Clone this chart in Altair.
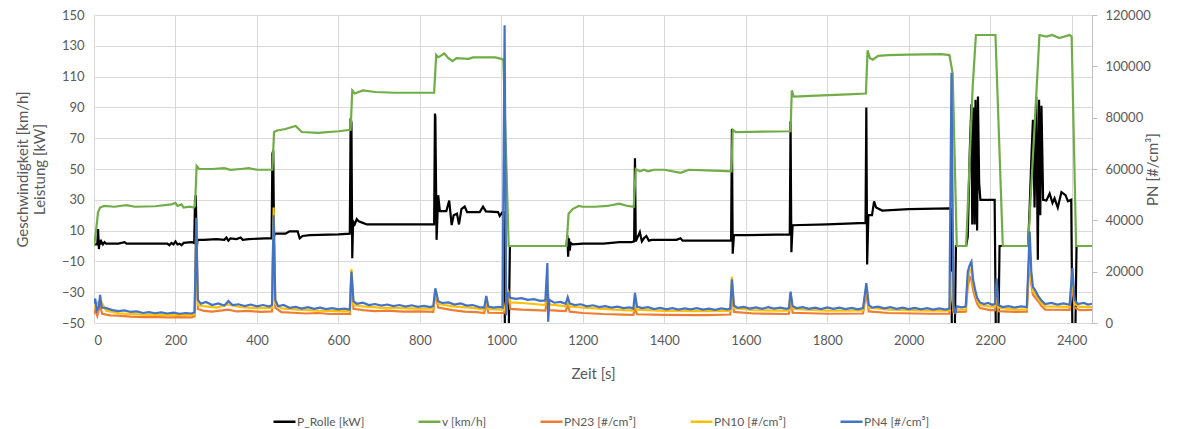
import altair as alt
import pandas as pd

# ---------------- data ----------------
SERIES = ["P_Rolle [kW]", "v [km/h]", "PN23 [#/cm³]", "PN10 [#/cm³]", "PN4 [#/cm³]"]
COLORS = ["#000000", "#70AD47", "#ED7D31", "#FFC000", "#4472C4"]

X_TICKS = list(range(0, 2401, 200))
LEFT_TICKS = [-50, -30, -10, 10, 30, 50, 70, 90, 110, 130, 150]
RIGHT_TICKS = [0, 20000, 40000, 60000, 80000, 100000, 120000]

P_ROLLE = [
    (0, 1), (8, 1), (10, 11), (12, -2), (14, 4), (16, 1), (18, 3), (22, 1), (26, 2.5), (30, 1.5),
    (40, 1.5), (60, 1.5), (75, 2.5), (80, 1.5), (180, 1.5), (185, 0.5), (190, 2), (195, 1), (200, 3),
    (205, 1), (210, 1.5), (215, 0.5), (220, 2), (240, 2.5), (246, 2), (248, 30), (250, 33), (252, -3),
    (254, 4), (270, 4), (300, 4.5), (320, 4), (325, 5.5), (330, 3.5), (335, 5), (350, 4.5), (360, 5.5),
    (365, 4), (380, 4.5), (420, 5), (436, 5), (438, 60), (440, 62), (442, 6), (444, 8), (470, 8),
    (480, 9.5), (500, 9.5), (505, 5), (512, 6.5), (530, 7), (600, 7.5), (628, 8), (630, 83), (632, 80),
    (634, -8), (636, 16), (640, 14), (645, 17.5), (650, 16), (660, 15), (670, 14), (700, 14), (835, 14),
    (837, 86), (838, 84), (841, 4), (845, 33), (849, 22.7), (865, 22.7), (872, 29.5), (878, 13.6),
    (883, 20), (891, 21), (896, 14), (902, 24), (910, 25.6), (916, 22), (947, 22), (955, 25.6),
    (962, 22.5), (992, 22), (996, 19.5), (1003, 22), (1006, 22), (1009, -60), (1018, -60), (1021, 0),
    (1160, 0), (1162, 7), (1164, -7), (1166, 5), (1168, -3), (1170, 2), (1175, 1), (1200, 1.5),
    (1250, 1.5), (1290, 2.5), (1320, 2.5), (1326, 3), (1328, 57), (1330, 3), (1335, 6), (1340, 9),
    (1345, 3), (1350, 5), (1356, 6.5), (1362, 3.5), (1370, 4), (1400, 4), (1430, 4), (1440, 5),
    (1445, 3.5), (1500, 3.5), (1564, 3.5), (1566, 76), (1568, -5), (1571, 7), (1600, 7), (1708, 7.5),
    (1710, 81), (1712, -4), (1715, 13.5), (1800, 14), (1894, 15), (1896, 90), (1898, -12), (1901, 20),
    (1910, 20), (1915, 29), (1920, 25), (1935, 23), (2000, 24), (2100, 24.4), (2104, 24), (2106, -60),
    (2113, -60), (2116, 0), (2141, 0), (2145, 6), (2150, 62), (2154, 92), (2156, 14), (2159, 90),
    (2162, 14), (2164, 95), (2168, 10), (2170, 97), (2173, 41), (2176, 30), (2211, 30), (2214, -60),
    (2220, -60), (2223, 0), (2293, 0), (2297, 25), (2301, 56), (2305, 82), (2309, 25), (2313, 97),
    (2317, -9), (2320, 95), (2323, 20), (2326, 91), (2330, 30), (2338, 29.5), (2346, 34), (2353, 28),
    (2358, 31), (2366, 25), (2375, 35), (2385, 33), (2391, 29), (2399, 30), (2402, -60), (2409, -60),
    (2412, 0), (2450, 0),
]

V_KMH = [
    (0, 0), (5, 10), (10, 22), (15, 25), (25, 26), (50, 25.5), (80, 26.5), (100, 25.5), (150, 25.8),
    (190, 27), (200, 28), (205, 26), (215, 27), (220, 25), (235, 25.5), (245, 25), (248, 26), (252, 52),
    (258, 50), (290, 50), (320, 50.5), (335, 49.5), (360, 50), (380, 50.5), (400, 49.5), (438, 49.5),
    (442, 74), (450, 75), (470, 76), (495, 78), (510, 74), (550, 73.5), (600, 74.5), (630, 75.5),
    (634, 101), (640, 99), (660, 101), (690, 100), (740, 99.5), (835, 99.5), (840, 124), (845, 122.5),
    (860, 125), (870, 122), (880, 120), (890, 122), (920, 121.5), (930, 122.5), (985, 122.5),
    (1000, 121.5), (1005, 121), (1018, 0), (1160, 0), (1165, 21), (1175, 24), (1190, 26), (1200, 25.5),
    (1230, 25.5), (1260, 26), (1290, 27.5), (1310, 26), (1325, 25.5), (1330, 50), (1340, 48.5),
    (1350, 49.5), (1360, 48.5), (1375, 49.5), (1400, 49.5), (1440, 47.5), (1460, 49.5), (1520, 49),
    (1565, 48.5), (1568, 75.5), (1575, 74), (1710, 74.5), (1713, 101), (1718, 97), (1760, 97.5),
    (1850, 98.5), (1895, 99), (1899, 127), (1905, 122), (1912, 121), (1925, 123.5), (1950, 124),
    (2000, 124.3), (2080, 124.6), (2100, 124), (2108, 112), (2118, 0), (2141, 0), (2157, 103),
    (2165, 137), (2213, 137), (2231, 0), (2293, 0), (2313, 97), (2321, 137), (2338, 136), (2352, 137),
    (2370, 135), (2395, 137), (2400, 136), (2411, 0), (2450, 0),
]

PN4 = [
    (0, 7500), (3, 9500), (7, 5000), (12, 6500), (15, 11000), (19, 6000), (30, 5800), (45, 5000),
    (60, 4600), (75, 4900), (90, 4300), (105, 4500), (120, 3900), (135, 4200), (150, 3800), (165, 4100),
    (180, 3700), (195, 4000), (210, 3600), (225, 3900), (240, 3700), (247, 4200), (251, 41000),
    (255, 9000), (262, 7500), (275, 8200), (290, 7000), (305, 7600), (320, 6800), (330, 8500),
    (340, 7000), (355, 7300), (370, 6600), (385, 7200), (400, 6500), (415, 7000), (430, 6400),
    (437, 7000), (441, 42000), (445, 9000), (452, 6500), (465, 7000), (480, 5900), (495, 6300),
    (510, 5600), (525, 6200), (540, 5500), (555, 6000), (570, 5400), (585, 5800), (600, 5300),
    (615, 5600), (628, 5200), (632, 20000), (637, 8500), (645, 7500), (660, 7900), (675, 7000),
    (690, 7400), (705, 6800), (720, 7200), (735, 6600), (750, 7000), (765, 6400), (780, 6900),
    (795, 6300), (810, 6700), (825, 6200), (833, 6600), (838, 13500), (845, 8500), (855, 7800),
    (870, 8000), (885, 7200), (900, 7600), (915, 6800), (930, 7000), (945, 6200), (958, 6000),
    (963, 10500), (968, 6400), (980, 6000), (995, 6300), (1003, 6000), (1008, 116000), (1012, 3000),
    (1016, 12000), (1022, 9800), (1035, 9400), (1050, 9700), (1065, 9000), (1080, 9300), (1095, 8600),
    (1108, 8800), (1113, 23400), (1115, 500), (1118, 9000), (1130, 7900), (1145, 8200), (1158, 7500),
    (1163, 10100), (1168, 7600), (1180, 7000), (1195, 7300), (1210, 6500), (1225, 6900), (1240, 6200),
    (1255, 6600), (1270, 6000), (1285, 6400), (1300, 5800), (1315, 6100), (1324, 5600), (1328, 11700),
    (1333, 6400), (1345, 5800), (1360, 6200), (1375, 5400), (1390, 5900), (1405, 5300), (1420, 5800),
    (1435, 5200), (1450, 5700), (1465, 5300), (1480, 5800), (1495, 5200), (1510, 5600), (1525, 5100),
    (1540, 5700), (1555, 5300), (1562, 5500), (1566, 17000), (1571, 6800), (1580, 5900), (1595, 6300),
    (1610, 5600), (1625, 6100), (1640, 5500), (1655, 6200), (1670, 5600), (1685, 6000), (1700, 5500),
    (1706, 5800), (1710, 12200), (1715, 6500), (1725, 5800), (1740, 6200), (1755, 5500), (1770, 6000),
    (1785, 5400), (1800, 6100), (1815, 5500), (1830, 6000), (1845, 5400), (1860, 5900), (1875, 5300),
    (1888, 5800), (1896, 15500), (1902, 7000), (1910, 6000), (1925, 6400), (1940, 5700), (1955, 6200),
    (1970, 5500), (1985, 6000), (2000, 5400), (2015, 5900), (2030, 5300), (2045, 5800), (2060, 5200),
    (2075, 5700), (2090, 5200), (2100, 5600), (2105, 97500), (2110, 6000), (2114, 3500), (2118, 6500),
    (2130, 6100), (2140, 6400), (2145, 20000), (2150, 22600), (2154, 23900), (2158, 17000),
    (2163, 13000), (2168, 9800), (2175, 8000), (2185, 7400), (2195, 7800), (2205, 7100), (2212, 7500),
    (2216, 17400), (2220, 7000), (2230, 6200), (2245, 6600), (2260, 6000), (2275, 6500), (2290, 6200),
    (2297, 35600), (2301, 20000), (2305, 14000), (2310, 12900), (2318, 10500), (2326, 8800),
    (2335, 7400), (2350, 7800), (2365, 7200), (2380, 7600), (2395, 7100), (2402, 21400), (2407, 9000),
    (2415, 7400), (2430, 7800), (2440, 7200), (2450, 7500),
]

PN10 = [
    (0, 6000), (15, 9000), (30, 4800), (60, 3800), (120, 3300), (180, 3100), (240, 3100), (247, 3500),
    (251, 38000), (255, 7000), (270, 6600), (300, 6000), (330, 7200), (360, 6200), (400, 5800),
    (437, 5900), (441, 45000), (445, 7500), (460, 5700), (500, 5200), (550, 4800), (600, 4600),
    (628, 4500), (632, 21000), (637, 7000), (660, 6500), (700, 6000), (750, 5800), (800, 5600),
    (833, 5600), (838, 13000), (845, 7500), (880, 6500), (930, 5900), (958, 5200), (963, 9500),
    (968, 5400), (1003, 5200), (1008, 5000), (1012, 9000), (1016, 13000), (1022, 8000), (1050, 7800),
    (1080, 7400), (1108, 7000), (1113, 15000), (1118, 7200), (1145, 6800), (1158, 6500), (1163, 9000),
    (1168, 6400), (1200, 6000), (1250, 5500), (1300, 5000), (1324, 4800), (1328, 9500), (1333, 5200),
    (1400, 4700), (1500, 4600), (1562, 4700), (1566, 18000), (1571, 5800), (1620, 5000), (1700, 4800),
    (1706, 4900), (1710, 11500), (1715, 5500), (1800, 4800), (1888, 4900), (1896, 14500), (1902, 6000),
    (1950, 5200), (2050, 4800), (2100, 4800), (2105, 20000), (2110, 5200), (2140, 5300), (2145, 17000),
    (2150, 20500), (2154, 21000), (2158, 15500), (2163, 12000), (2168, 9000), (2175, 7000),
    (2200, 6400), (2212, 6400), (2216, 15000), (2220, 6000), (2260, 5200), (2290, 5300), (2297, 30000),
    (2301, 17000), (2305, 12500), (2310, 11500), (2318, 9500), (2326, 7800), (2335, 6500),
    (2395, 6300), (2402, 18500), (2407, 7500), (2420, 6300), (2450, 6300),
]

PN23 = [
    (0, 3500), (3, 5000), (8, 2800), (15, 7000), (20, 3600), (40, 3000), (60, 2900), (90, 2500),
    (120, 2300), (150, 2400), (180, 2200), (210, 2300), (240, 2200), (247, 2600), (251, 33000),
    (255, 5500), (270, 4700), (290, 4400), (310, 4800), (330, 5200), (350, 4500), (380, 4700),
    (410, 4300), (437, 4500), (441, 40000), (445, 6000), (460, 4200), (490, 4000), (520, 3700),
    (550, 3900), (580, 3500), (610, 3600), (628, 3500), (632, 19000), (637, 5500), (660, 5000),
    (690, 4600), (720, 4800), (760, 4400), (800, 4500), (833, 4300), (838, 11700), (845, 6000),
    (880, 5000), (910, 4400), (940, 4200), (958, 3900), (963, 7500), (968, 4000), (1003, 3900),
    (1008, 4000), (1012, 7000), (1016, 12900), (1022, 5500), (1050, 5200), (1080, 5000), (1108, 4800),
    (1113, 9000), (1118, 5000), (1145, 4700), (1158, 4600), (1163, 7100), (1168, 4400), (1200, 3900),
    (1250, 3500), (1300, 3300), (1324, 3200), (1328, 5700), (1333, 3400), (1400, 3200), (1500, 3100),
    (1562, 3300), (1566, 13000), (1571, 4300), (1620, 3700), (1700, 3500), (1706, 3600), (1710, 9000),
    (1715, 4000), (1800, 3600), (1888, 3700), (1896, 12000), (1902, 4500), (1950, 3900), (2050, 3600),
    (2100, 3600), (2105, 15000), (2110, 4200), (2140, 4400), (2145, 14000), (2150, 18000),
    (2154, 17000), (2158, 13000), (2163, 10000), (2168, 7500), (2175, 5800), (2200, 5000),
    (2212, 5000), (2216, 13000), (2220, 4600), (2260, 4300), (2290, 4400), (2297, 27000),
    (2301, 15000), (2305, 11000), (2310, 10000), (2318, 8500), (2326, 6600), (2335, 5200),
    (2395, 5100), (2402, 15500), (2407, 6000), (2420, 5000), (2450, 5100),
]

# ---------------- chart ----------------
FONT = "Lato"
GREY = "#595959"
GRID = "#d9d9d9"


def frame(pairs, name):
    return pd.DataFrame({
        "t": [p[0] for p in pairs],
        "val": [p[1] for p in pairs],
        "series": [name] * len(pairs),
    })


x_enc = alt.X(
    "t:Q",
    scale=alt.Scale(domain=[0, 2450], nice=False, zero=False),
    axis=alt.Axis(values=X_TICKS, format="d", title="Zeit [s]", grid=True, gridColor=GRID,
                  ticks=False, domain=False, labelPadding=11, titlePadding=19, labelFontSize=13,
                  titleFontSize=15, labelColor=GREY, titleColor=GREY, titleFontWeight="normal",
                  labelFont=FONT, titleFont=FONT),
)

left_y = alt.Y(
    "val:Q",
    scale=alt.Scale(domain=[-50, 150], nice=False, zero=False),
    axis=alt.Axis(values=LEFT_TICKS, title=["Geschwindigkeit [km/h]", "Leistung [kW]"],
                  grid=True, gridColor=GRID, ticks=False, domain=False, labelPadding=10,
                  titlePadding=14, labelFontSize=13, titleFontSize=15, labelColor=GREY,
                  titleColor=GREY, titleFontWeight="normal", labelFont=FONT, titleFont=FONT),
)

right_y = alt.Y(
    "val:Q",
    scale=alt.Scale(domain=[0, 120000], nice=False, zero=True),
    axis=alt.Axis(orient="right", values=RIGHT_TICKS, format="d", title="PN [#/cm³]",
                  grid=False, ticks=True, tickSize=5, tickColor="#bfbfbf", domain=True,
                  domainColor="#bfbfbf", labelPadding=8, titlePadding=10, titleAngle=270,
                  labelFontSize=13, titleFontSize=15, labelColor=GREY, titleColor=GREY,
                  titleFontWeight="normal", labelFont=FONT, titleFont=FONT),
)

legend = alt.Legend(
    title=None, orient="none", legendX=178, legendY=394, direction="horizontal",
    symbolType="stroke", symbolSize=484, symbolStrokeWidth=2.5, labelFontSize=12,
    labelColor=GREY, labelFont=FONT, columnPadding=48, labelOffset=0,
)

color_enc = alt.Color("series:N", scale=alt.Scale(domain=SERIES, range=COLORS), legend=legend)


def line(pairs, name, y_enc):
    return alt.Chart(frame(pairs, name)).mark_line(strokeWidth=2.2, clip=True).encode(
        x=x_enc, y=y_enc, color=color_enc
    )


left = alt.layer(line(P_ROLLE, SERIES[0], left_y), line(V_KMH, SERIES[1], left_y))
right = alt.layer(
    line(PN23, SERIES[2], right_y),
    line(PN10, SERIES[3], right_y),
    line(PN4, SERIES[4], right_y),
)

chart = (
    alt.layer(left, right)
    .resolve_scale(y="independent")
    .properties(
        width=998,
        height=308,
        autosize=alt.AutoSizeParams(type="none"),
        padding={"left": 94, "top": 15, "right": 88, "bottom": 106},
        background="white",
    )
    .configure_view(strokeWidth=0)
)

chart.save("out.html", embed_options={"renderer": "svg", "actions": False})
